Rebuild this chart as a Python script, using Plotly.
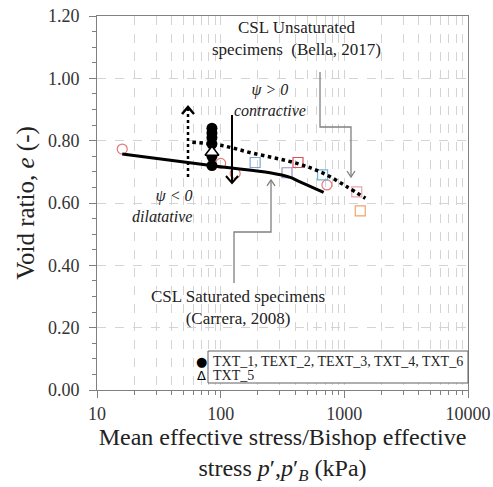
import plotly.graph_objects as go

# CSL saturated (Carrera, 2008)
sat_p = [16, 100, 250, 365, 420, 680]
sat_e = [0.757, 0.716, 0.697, 0.682, 0.671, 0.634]

# CSL unsaturated (Bella, 2017)
unsat_p = [59, 100, 185, 414, 680, 1050, 1480]
unsat_e = [0.795, 0.785, 0.759, 0.727, 0.695, 0.652, 0.615]

# test results
txt_p = [85, 85, 85, 85, 85, 85]
txt_e = [0.84, 0.825, 0.81, 0.79, 0.75, 0.72]
txt5_p = [85]
txt5_e = [0.763]

# saturated data points (circles)
circ_p = [16, 100, 131, 723]
circ_e = [0.773, 0.727, 0.695, 0.658]

# unsaturated data points (squares)
sq_p = [190, 344, 422, 667, 1260, 1345]
sq_e = [0.73, 0.697, 0.73, 0.69, 0.636, 0.575]
sq_colors = ['#7fa6d4', '#9d8fc6', '#e0505a', '#6cb6cf', '#e8a6b0', '#f0a468']

x_ticks = [10, 100, 1000, 10000]
x_minor = [m * d for d in (10, 100, 1000) for m in range(2, 10)]

FONT = 'Liberation Serif, Times New Roman, serif'

# plot area in pixels: x 97..468, y 16..390
L, R, T, B = 97, 468, 16, 390


def px(x):
    return (x - L) / (R - L)


def py(y):
    return (B - y) / (B - T)


def path(points):
    return 'M ' + ' L '.join('%.4f,%.4f' % (px(x), py(y)) for x, y in points)


def label(x, y, text, font, xanchor='center', align='center'):
    return dict(xref='paper', yref='paper', x=px(x), y=py(y), xanchor=xanchor, yanchor='middle',
                text=text, showarrow=False, font=font, align=align)


fig = go.Figure()

fig.add_trace(go.Scatter(x=circ_p, y=circ_e, mode='markers',
                         marker=dict(symbol='circle-open', size=10, color='#e07a7a', line=dict(width=1.2))))
fig.add_trace(go.Scatter(x=sq_p, y=sq_e, mode='markers',
                         marker=dict(symbol='square-open', size=10, color=sq_colors, line=dict(width=1.2))))
fig.add_trace(go.Scatter(x=sat_p, y=sat_e, mode='lines', line=dict(color='black', width=3, shape='spline')))
fig.add_trace(go.Scatter(x=unsat_p, y=unsat_e, mode='lines',
                         line=dict(color='black', width=3.5, dash='dot', shape='spline')))
fig.add_trace(go.Scatter(x=txt_p, y=txt_e, mode='markers', marker=dict(symbol='circle', size=11, color='black')))
fig.add_trace(go.Scatter(x=txt5_p, y=txt5_e, mode='markers',
                         marker=dict(symbol='triangle-up', size=12, color='white', line=dict(color='black', width=1.5))))

shapes = []
# legend box
shapes.append(dict(type='rect', xref='paper', yref='paper', x0=px(208), x1=1, y0=py(383), y1=py(351),
                   line=dict(color='#606060', width=1), fillcolor='white'))
# dotted arrow (dilatative) and solid arrow (contractive)
shapes.append(dict(type='line', xref='paper', yref='paper', x0=px(188), x1=px(188), y0=py(177), y1=py(108),
                   line=dict(color='black', width=2.5, dash='dot')))
shapes.append(dict(type='path', xref='paper', yref='paper', path=path([(182, 114), (188, 107), (194, 114)]),
                   line=dict(color='black', width=2.5)))
shapes.append(dict(type='line', xref='paper', yref='paper', x0=px(232), x1=px(232), y0=py(115), y1=py(183),
                   line=dict(color='black', width=2)))
shapes.append(dict(type='path', xref='paper', yref='paper', path=path([(226, 176), (232, 183), (238, 176)]),
                   line=dict(color='black', width=2)))
# callout connectors with arrow heads
shapes.append(dict(type='path', xref='paper', yref='paper',
                   path=path([(320, 72), (320, 127), (351, 127), (351, 177)]), line=dict(color='#808080', width=1.3)))
shapes.append(dict(type='path', xref='paper', yref='paper', path=path([(347, 171), (351, 177), (355, 171)]),
                   line=dict(color='#808080', width=1.3)))
shapes.append(dict(type='path', xref='paper', yref='paper',
                   path=path([(234, 283), (234, 232), (271, 232), (271, 180)]), line=dict(color='#808080', width=1.3)))
shapes.append(dict(type='path', xref='paper', yref='paper', path=path([(267, 186), (271, 180), (275, 186)]),
                   line=dict(color='#808080', width=1.3)))
fig.update_layout(shapes=shapes)

txt_font = dict(family=FONT, size=17, color='#222222')
ital_font = dict(family=FONT, size=16, color='#222222')
leg_font = dict(family=FONT, size=14, color='#222222')
sym_font = dict(family='DejaVu Sans', size=13, color='black')

ann = [
    label(296, 38, 'CSL Unsaturated<br>specimens  (Bella, 2017)', txt_font),
    label(270, 100, '<i>ψ &gt; 0</i><br><i>contractive</i>', ital_font),
    label(194, 206, '<i>ψ &lt; 0</i><br><i>dilatative</i>', ital_font, xanchor='right', align='right'),
    label(238, 307, 'CSL Saturated specimens<br>(Carrera, 2008)', txt_font),
    # legend contents
    label(201, 361, '●', sym_font),
    label(201, 375, 'Δ', sym_font),
    label(211, 361, 'TXT_1, TEXT_2, TEXT_3, TXT_4, TXT_6', leg_font, xanchor='left', align='left'),
    label(211, 375, 'TXT_5', leg_font, xanchor='left', align='left'),
]
fig.update_layout(annotations=ann)

axis_col = '#808080'
grid_col = '#d4d4d4'
tick_font = dict(family=FONT, size=18, color='#333333')
title_font = dict(family=FONT, size=24, color='#222222')

fig.update_xaxes(type='log', range=[1, 4], tickvals=x_ticks, ticktext=[str(v) for v in x_ticks],
                 ticks='outside', ticklen=7, tickcolor=axis_col, showline=True, linecolor=axis_col, mirror=True,
                 tickfont=tick_font, ticklabeloverflow='allow',
                 showgrid=True, gridcolor=grid_col, griddash='dash',
                 minor=dict(tickvals=x_minor, ticks='outside', ticklen=4, tickcolor=axis_col, showgrid=True,
                            gridcolor=grid_col, griddash='dash'),
                 title=dict(text="Mean effective stress/Bishop effective<br>stress <i>p</i>′,<i>p</i>′<sub><i>B</i></sub> (kPa)",
                            font=title_font, standoff=4),
                 zeroline=False, automargin=False)
fig.update_yaxes(range=[0, 1.2], dtick=0.2, tickformat='.2f', ticks='outside', ticklen=7, tickcolor=axis_col,
                 showline=True, linecolor=axis_col, mirror=True,
                 tickfont=tick_font, ticklabeloverflow='allow', ticklabelstandoff=6,
                 showgrid=True, gridcolor=grid_col, griddash='dash',
                 minor=dict(dtick=0.05, ticks='outside', ticklen=4, tickcolor=axis_col, showgrid=False),
                 title=dict(text='Void ratio, <i>e</i> (-)', font=dict(family=FONT, size=25, color='#222222'),
                            standoff=6),
                 zeroline=False, automargin=False)

fig.update_layout(width=493, height=487, margin=dict(l=L, r=493 - R, t=T, b=487 - B),
                  plot_bgcolor='white', paper_bgcolor='white', showlegend=False)

# drop the default page margin so the figure fills the window exactly
fig.write_html("out.html", config={'displayModeBar': False},
               post_script="document.body.style.margin='0';")
